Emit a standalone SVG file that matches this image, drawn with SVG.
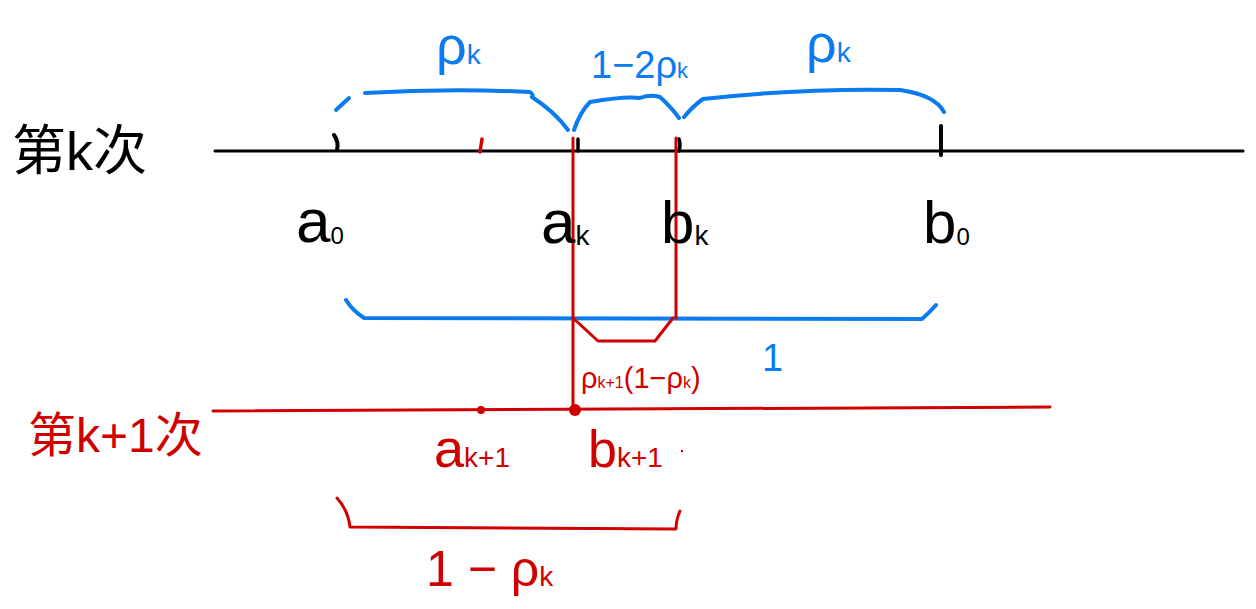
<svg xmlns="http://www.w3.org/2000/svg" width="1256" height="609" viewBox="0 0 1256 609">
<style>
.t{font-family:"Liberation Sans","Noto Sans CJK SC",sans-serif}
.k{fill:#000}
.b{fill:#0a7cf0}
.r{fill:#d00000}
.lk{stroke:#000;fill:none;stroke-width:3;stroke-linecap:round;stroke-linejoin:round}
.lb{stroke:#0a7cf0;fill:none;stroke-width:4;stroke-linecap:round;stroke-linejoin:round}
.lr{stroke:#d00000;fill:none;stroke-width:3;stroke-linecap:round;stroke-linejoin:round}
</style>
<rect width="1256" height="609" fill="#fff"/>
<g id="connectors">
  <path class="lk" d="M215 151 L1243 151"/>
  <path class="lk" d="M334 135 Q339 142 337 150" style="stroke-width:4"/>
  <path class="lk" d="M578 139 L578 151" style="stroke-width:3.5"/>
  <path class="lk" d="M679 139 Q681 145 679 151" style="stroke-width:3.5"/>
  <path class="lk" d="M941 126 L941 155" style="stroke-width:4"/>
  <path class="lr" d="M482 139 L480 152" style="stroke-width:3.5"/>
  <path class="lb" d="M336 110 L349 98"/>
  <path class="lb" d="M365 93 Q450 88 530 92 Q534 95 532 97 Q555 112 568 130"/>
  <path class="lb" d="M574 130 Q580 112 590 102 Q625 96 640 98 Q650 94 660 97 Q672 108 679 118"/>
  <path class="lb" d="M684 117 Q693 106 703 99 Q800 88 900 90 Q935 95 944 112"/>
  <path class="lb" d="M346 300 Q352 310 364 318 L922 319 Q930 312 936 305"/>
  <path class="lr" d="M573 138 L573 412"/>
  <path class="lr" d="M676 138 L676 318"/>
  <path class="lr" d="M573 318 L598 341 L655 341 L673 318"/>
  <path class="lr" d="M213 411 L1050 407"/>
  <circle cx="481" cy="410" r="4" fill="#d00000"/>
  <circle cx="575" cy="410" r="6" fill="#d00000"/>
  <circle cx="682" cy="451" r="1.2" fill="#d00000"/>
  <path class="lr" d="M337 498 Q348 510 350 527 L676 529 Q676 520 680 511"/>
</g>
<g id="label-k">
  <text class="t k" x="12" y="170" font-size="54">第k次</text>
</g>
<g id="label-k1">
  <text class="t r" x="28" y="452" font-size="48">第k+1次</text>
</g>
<g id="a0">
  <text class="t k" x="296" y="242" font-size="62">a<tspan font-size="24" dy="2">0</tspan></text>
</g>
<g id="ak">
  <text class="t k" x="541" y="243" font-size="62">a<tspan font-size="28" dy="2">k</tspan></text>
</g>
<g id="bk">
  <text class="t k" x="661" y="243" font-size="60">b<tspan font-size="28" dy="2">k</tspan></text>
</g>
<g id="b0">
  <text class="t k" x="923" y="243" font-size="60">b<tspan font-size="24" dy="2">0</tspan></text>
</g>
<g id="rho-left">
  <text class="t b" x="436" y="64" font-size="54">ρ<tspan font-size="28">k</tspan></text>
</g>
<g id="mid-label">
  <text class="t b" x="591" y="78" font-size="38">1−2ρ<tspan font-size="22">k</tspan></text>
</g>
<g id="rho-right">
  <text class="t b" x="806" y="62" font-size="54">ρ<tspan font-size="28">k</tspan></text>
</g>
<g id="one">
  <text class="t b" x="762" y="371" font-size="38">1</text>
</g>
<g id="rho-k1">
  <text class="t r" x="581" y="388" font-size="29">ρ<tspan font-size="16">k+1</tspan>(1−ρ<tspan font-size="16">k</tspan>)</text>
</g>
<g id="ak1">
  <text class="t r" x="434" y="467" font-size="54">a<tspan font-size="28">k+1</tspan></text>
</g>
<g id="bk1">
  <text class="t r" x="588" y="467" font-size="52">b<tspan font-size="28">k+1</tspan></text>
</g>
<g id="one-minus">
  <text class="t r" x="426" y="586" font-size="50">1 − ρ<tspan font-size="28">k</tspan></text>
</g>
</svg>
